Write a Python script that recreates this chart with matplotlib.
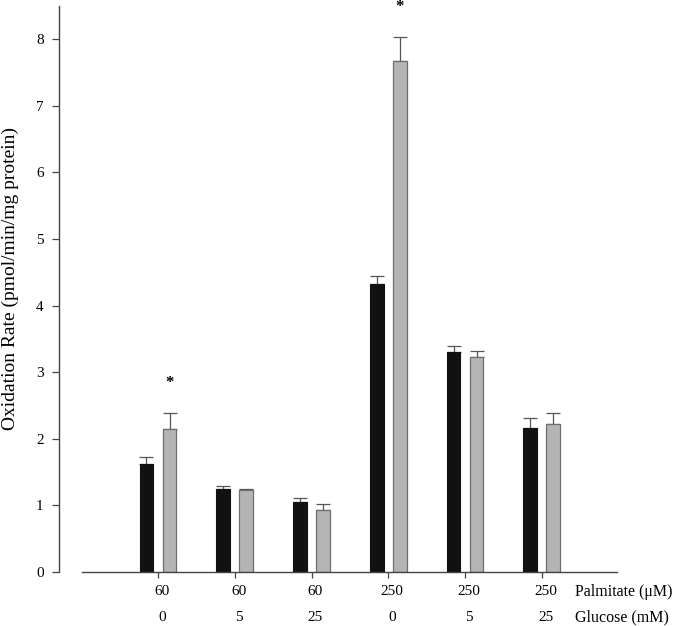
import numpy as np
import matplotlib.pyplot as plt

plt.rcParams['font.family'] = ['Liberation Serif', 'DejaVu Serif']

# Données
palmitate = ['60', '60', '60', '250', '250', '250']
glucose = ['0', '5', '25', '0', '5', '25']
black_vals = [1.62, 1.25, 1.05, 4.33, 3.30, 2.16]
black_err = [0.10, 0.04, 0.06, 0.12, 0.10, 0.15]
gray_vals = [2.15, 1.23, 0.93, 7.68, 3.23, 2.23]
gray_err = [0.24, 0.01, 0.09, 0.35, 0.09, 0.16]
stars = [True, False, False, True, False, False]

x = np.arange(len(palmitate))
w = 0.18
off = 0.15

fig = plt.figure(figsize=(6.79, 6.26), dpi=100)
ax = fig.add_axes([59/679, 1 - 572/626, (617 - 59)/679, (572 - 6)/626])

ax.bar(x - off, black_vals, w, color='#111111', edgecolor='#111111', linewidth=0.8, zorder=2)
ax.bar(x + off, gray_vals, w, color='#b4b4b4', edgecolor='#6e6e6e', linewidth=0.9, zorder=2)

# barres d'erreur (vers le haut seulement)
ax.errorbar(x - off, black_vals, yerr=[np.zeros(6), black_err], fmt='none',
            ecolor='#555555', elinewidth=0.9, capsize=5, capthick=0.9, zorder=1)
ax.errorbar(x + off, gray_vals, yerr=[np.zeros(6), gray_err], fmt='none',
            ecolor='#555555', elinewidth=0.9, capsize=5, capthick=0.9, zorder=1)

for i in range(len(x)):
    if stars[i]:
        ax.text(x[i] + off, gray_vals[i] + gray_err[i] + 0.45, '*', ha='center', va='center',
                fontsize=12, fontweight='bold', clip_on=False)

ax.set_xlim(-1.29, 5.98)
ax.set_ylim(0, 8.5)
ax.spines['top'].set_visible(False)
ax.spines['right'].set_visible(False)
ax.spines['bottom'].set_bounds(-0.99, 5.98)
for s in ['left', 'bottom']:
    ax.spines[s].set_color('#444444')
    ax.spines[s].set_linewidth(1.0)

ax.set_yticks(range(0, 9))
ax.tick_params(axis='y', length=5, width=0.9, color='#444444', labelsize=11, pad=6)
ax.set_xticks(x)
ax.set_xticklabels([])
ax.tick_params(axis='x', length=4, width=0.9, color='#444444')

for i in range(len(x)):
    ax.text(x[i] + 0.05, -0.035, palmitate[i], transform=ax.get_xaxis_transform(),
            ha='center', va='center', fontsize=11)
    ax.text(x[i] + 0.05, -0.08, glucose[i], transform=ax.get_xaxis_transform(),
            ha='center', va='center', fontsize=11)
fig.text(575/679, 1 - 592/626, 'Palmitate (\u03bcM)', ha='left', va='center', fontsize=11.5)
fig.text(575/679, 1 - 617/626, 'Glucose (mM)', ha='left', va='center', fontsize=11.5)

fig.text(10/679, 1 - 278/626, 'Oxidation Rate (pmol/min/mg protein)', rotation=90,
         ha='center', va='center', fontsize=14)

fig.savefig('out.png', dpi=100)
